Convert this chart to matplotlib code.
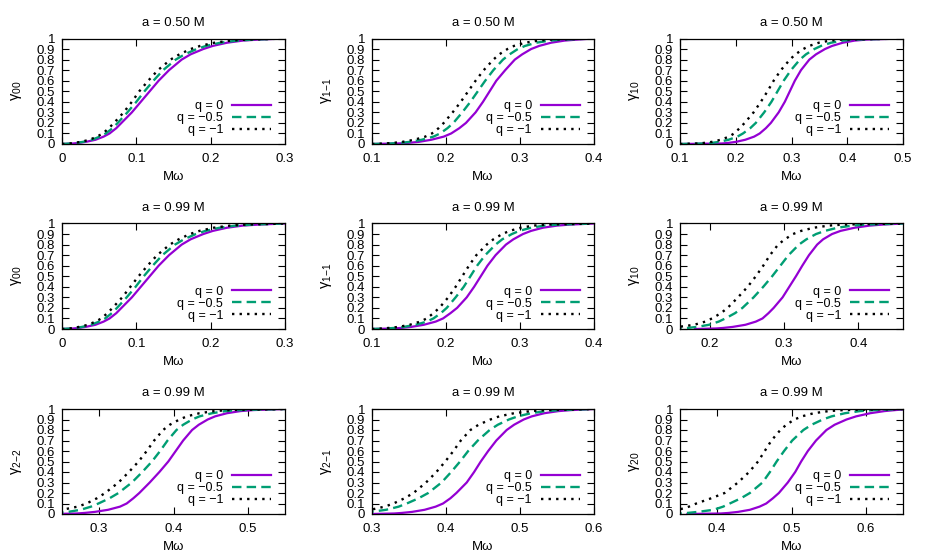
import matplotlib
matplotlib.use("Agg")
import matplotlib.pyplot as plt
from matplotlib.ticker import MultipleLocator, FixedLocator, FuncFormatter

plt.rcParams['font.family'] = ['Liberation Sans', 'DejaVu Sans']
plt.rcParams['mathtext.fontset'] = 'custom'
plt.rcParams['mathtext.rm'] = 'Liberation Sans'
plt.rcParams['mathtext.it'] = 'Liberation Sans:italic'

# Shared transmission levels (y values) at which each curve's Mω was read
levels = [0.0, 0.005, 0.01, 0.02, 0.04, 0.07, 0.1, 0.15, 0.2, 0.3, 0.4, 0.5,
          0.6, 0.7, 0.8, 0.85, 0.9, 0.93, 0.96, 0.98, 0.99, 1.0]

series_labels = ["q = 0", "q = −0.5", "q = −1"]
titles = ["a = 0.50 M", "a = 0.50 M", "a = 0.50 M",
          "a = 0.99 M", "a = 0.99 M", "a = 0.99 M",
          "a = 0.99 M", "a = 0.99 M", "a = 0.99 M"]
ylabels = ["γ_{00}", "γ_{1{−}1}", "γ_{10}",
           "γ_{00}", "γ_{1{−}1}", "γ_{10}",
           "γ_{2{−}2}", "γ_{2{−}1}", "γ_{20}"]
xlims = [(0.0, 0.3), (0.1, 0.4), (0.1, 0.5),
         (0.0, 0.3), (0.1, 0.4), (0.16, 0.46),
         (0.25, 0.55), (0.3, 0.6), (0.35, 0.65)]

# Panel 1: a=0.50, gamma_00  (Mω at each level)
p1_q0 = [0.0, 0.015, 0.022, 0.032, 0.045, 0.056, 0.064, 0.073, 0.080, 0.094, 0.106, 0.118, 0.130, 0.144, 0.161, 0.173, 0.190, 0.203, 0.222, 0.243, 0.265, 0.30]
p1_q05 = [0.0, 0.012, 0.019, 0.028, 0.040, 0.051, 0.059, 0.068, 0.075, 0.088, 0.100, 0.111, 0.123, 0.136, 0.153, 0.165, 0.181, 0.194, 0.213, 0.235, 0.258, 0.30]
p1_q1 = [0.0, 0.010, 0.016, 0.025, 0.037, 0.047, 0.055, 0.063, 0.070, 0.083, 0.094, 0.104, 0.116, 0.129, 0.146, 0.158, 0.173, 0.186, 0.205, 0.227, 0.250, 0.30]
# Panel 2: a=0.50, gamma_1-1
p2_q0 = [0.10, 0.135, 0.148, 0.163, 0.180, 0.197, 0.207, 0.218, 0.227, 0.240, 0.250, 0.259, 0.268, 0.280, 0.293, 0.303, 0.315, 0.326, 0.342, 0.360, 0.378, 0.40]
p2_q05 = [0.10, 0.125, 0.137, 0.151, 0.167, 0.183, 0.192, 0.202, 0.210, 0.222, 0.233, 0.243, 0.253, 0.264, 0.277, 0.286, 0.297, 0.307, 0.322, 0.340, 0.358, 0.40]
p2_q1 = [0.10, 0.118, 0.128, 0.141, 0.157, 0.172, 0.181, 0.190, 0.197, 0.209, 0.220, 0.230, 0.240, 0.251, 0.264, 0.272, 0.283, 0.292, 0.307, 0.325, 0.342, 0.40]
# Panel 3: a=0.50, gamma_10
p3_q0 = [0.10, 0.175, 0.186, 0.200, 0.217, 0.233, 0.243, 0.254, 0.263, 0.277, 0.288, 0.297, 0.306, 0.317, 0.332, 0.344, 0.360, 0.373, 0.392, 0.413, 0.435, 0.50]
p3_q05 = [0.10, 0.145, 0.156, 0.170, 0.187, 0.203, 0.213, 0.226, 0.236, 0.251, 0.264, 0.275, 0.286, 0.299, 0.315, 0.326, 0.341, 0.353, 0.371, 0.392, 0.413, 0.50]
p3_q1 = [0.10, 0.133, 0.143, 0.157, 0.173, 0.188, 0.197, 0.207, 0.216, 0.232, 0.245, 0.257, 0.268, 0.281, 0.297, 0.307, 0.321, 0.332, 0.349, 0.369, 0.390, 0.50]
# Panel 4: a=0.99, gamma_00
p4_q0 = [0.0, 0.015, 0.022, 0.032, 0.045, 0.056, 0.064, 0.073, 0.080, 0.094, 0.106, 0.118, 0.130, 0.144, 0.161, 0.173, 0.190, 0.203, 0.222, 0.243, 0.265, 0.30]
p4_q05 = [0.0, 0.012, 0.018, 0.027, 0.039, 0.050, 0.058, 0.067, 0.074, 0.087, 0.099, 0.110, 0.122, 0.135, 0.152, 0.164, 0.180, 0.193, 0.212, 0.234, 0.257, 0.30]
p4_q1 = [0.0, 0.010, 0.015, 0.023, 0.035, 0.045, 0.053, 0.061, 0.068, 0.081, 0.092, 0.103, 0.115, 0.128, 0.145, 0.157, 0.172, 0.185, 0.204, 0.226, 0.249, 0.30]
# Panel 5: a=0.99, gamma_1-1
p5_q0 = [0.10, 0.128, 0.139, 0.153, 0.170, 0.186, 0.196, 0.206, 0.215, 0.228, 0.238, 0.247, 0.256, 0.267, 0.281, 0.291, 0.304, 0.315, 0.331, 0.350, 0.368, 0.40]
p5_q05 = [0.10, 0.120, 0.130, 0.143, 0.159, 0.174, 0.183, 0.193, 0.201, 0.213, 0.224, 0.233, 0.242, 0.253, 0.267, 0.276, 0.289, 0.299, 0.315, 0.333, 0.352, 0.40]
p5_q1 = [0.10, 0.114, 0.123, 0.136, 0.151, 0.165, 0.174, 0.183, 0.191, 0.203, 0.213, 0.222, 0.231, 0.241, 0.255, 0.264, 0.276, 0.286, 0.301, 0.318, 0.336, 0.40]
# Panel 6: a=0.99, gamma_10
p6_q0 = [0.18, 0.208, 0.218, 0.231, 0.248, 0.262, 0.271, 0.279, 0.286, 0.298, 0.307, 0.316, 0.3245, 0.3335, 0.3445, 0.3525, 0.3645, 0.376, 0.395, 0.415, 0.433, 0.46]
p6_q05 = [0.13, 0.160, 0.170, 0.183, 0.199, 0.212, 0.221, 0.234, 0.244, 0.259, 0.272, 0.284, 0.295, 0.306, 0.320, 0.330, 0.343, 0.355, 0.372, 0.392, 0.412, 0.46]
p6_q1 = [0.10, 0.125, 0.140, 0.158, 0.179, 0.194, 0.203, 0.215, 0.224, 0.238, 0.251, 0.262, 0.272, 0.281, 0.292, 0.301, 0.312, 0.323, 0.340, 0.360, 0.380, 0.46]
# Panel 7: a=0.99, gamma_2-2
p7_q0 = [0.24, 0.270, 0.280, 0.294, 0.312, 0.328, 0.337, 0.346, 0.354, 0.368, 0.381, 0.393, 0.403, 0.413, 0.425, 0.434, 0.446, 0.456, 0.472, 0.490, 0.508, 0.55]
p7_q05 = [0.20, 0.230, 0.243, 0.258, 0.275, 0.289, 0.299, 0.314, 0.326, 0.344, 0.358, 0.371, 0.382, 0.392, 0.404, 0.413, 0.425, 0.435, 0.452, 0.470, 0.490, 0.55]
p7_q1 = [0.16, 0.190, 0.205, 0.225, 0.250, 0.271, 0.283, 0.297, 0.308, 0.326, 0.340, 0.353, 0.364, 0.374, 0.386, 0.395, 0.408, 0.418, 0.435, 0.455, 0.475, 0.55]
# Panel 8: a=0.99, gamma_2-1
p8_q0 = [0.30, 0.330, 0.340, 0.354, 0.371, 0.386, 0.396, 0.406, 0.414, 0.428, 0.438, 0.447, 0.457, 0.468, 0.482, 0.492, 0.505, 0.516, 0.533, 0.552, 0.570, 0.60]
p8_q05 = [0.25, 0.270, 0.283, 0.298, 0.319, 0.336, 0.347, 0.363, 0.376, 0.394, 0.407, 0.419, 0.430, 0.443, 0.459, 0.470, 0.485, 0.497, 0.515, 0.535, 0.555, 0.60]
p8_q1 = [0.22, 0.245, 0.258, 0.274, 0.298, 0.317, 0.329, 0.344, 0.356, 0.373, 0.387, 0.399, 0.410, 0.420, 0.433, 0.444, 0.460, 0.472, 0.492, 0.515, 0.535, 0.60]
# Panel 9: a=0.99, gamma_20
p9_q0 = [0.36, 0.405, 0.415, 0.428, 0.444, 0.457, 0.466, 0.475, 0.483, 0.495, 0.505, 0.513, 0.522, 0.533, 0.547, 0.558, 0.574, 0.587, 0.606, 0.625, 0.640, 0.66]
p9_q05 = [0.32, 0.350, 0.360, 0.374, 0.395, 0.408, 0.417, 0.432, 0.444, 0.461, 0.471, 0.480, 0.490, 0.501, 0.516, 0.527, 0.542, 0.554, 0.572, 0.592, 0.612, 0.65]
p9_q1 = [0.28, 0.300, 0.310, 0.325, 0.348, 0.362, 0.372, 0.392, 0.410, 0.428, 0.443, 0.455, 0.464, 0.473, 0.485, 0.493, 0.504, 0.514, 0.530, 0.550, 0.570, 0.65]

panels = [(p1_q0, p1_q05, p1_q1), (p2_q0, p2_q05, p2_q1), (p3_q0, p3_q05, p3_q1),
          (p4_q0, p4_q05, p4_q1), (p5_q0, p5_q05, p5_q1), (p6_q0, p6_q05, p6_q1),
          (p7_q0, p7_q05, p7_q1), (p8_q0, p8_q05, p8_q1), (p9_q0, p9_q05, p9_q1)]

colors = ["#9400D3", "#009E73", "#000000"]
styles = ["-", (0, (4, 2.2)), (0, (1, 2.2))]

W, H = 926, 556
fig = plt.figure(figsize=(W / 100, H / 100), dpi=100)

col_l = [62, 372, 680]
col_r = [285, 594, 903]
row_t = [38.5, 223.5, 409]
row_b = [144, 329, 514]

ytick_vals = [0, 0.1, 0.2, 0.3, 0.4, 0.5, 0.6, 0.7, 0.8, 0.9, 1.0]
ytick_labels = ["0", "0.1", "0.2", "0.3", "0.4", "0.5", "0.6", "0.7", "0.8", "0.9", "1"]

for i in range(9):
    r, c = divmod(i, 3)
    aw = col_r[c] - col_l[c]
    ah = row_b[r] - row_t[r]
    ax = fig.add_axes([col_l[c] / W, 1 - row_b[r] / H, aw / W, ah / H])
    for k in range(3):
        ax.plot(panels[i][k], levels, color=colors[k], linestyle=styles[k],
                lw=1.6 if k == 0 else 1.7, label=series_labels[k],
                solid_joinstyle="round")
    ax.set_xlim(*xlims[i])
    ax.set_ylim(0, 1)
    ax.xaxis.set_major_locator(MultipleLocator(0.1))
    ax.xaxis.set_major_formatter(FuncFormatter(lambda v, p: "%g" % round(v, 6)))
    ax.yaxis.set_major_locator(FixedLocator(ytick_vals))
    ax.set_yticklabels(ytick_labels)
    ax.tick_params(direction="in", top=True, right=True, length=5, width=0.8,
                   labelsize=9.5)
    ax.tick_params(axis="y", pad=5)
    ax.tick_params(axis="x", pad=6.5)
    for s in ax.spines.values():
        s.set_linewidth(0.9)
    ax.set_title(titles[i], fontsize=9.5, pad=9)
    ax.set_xlabel("Mω", fontsize=9.5, labelpad=4)
    ax.set_ylabel(r"$\mathregular{" + ylabels[i] + "}$", fontsize=10.5, labelpad=9)
    ax.legend(loc="lower right", frameon=False, markerfirst=False, fontsize=9,
              handlelength=3.1, handletextpad=0.7, labelspacing=0.0,
              borderaxespad=0, borderpad=0.2,
              bbox_to_anchor=(1 - 12 / aw, 5 / ah))

fig.savefig("out.png", dpi=100)
